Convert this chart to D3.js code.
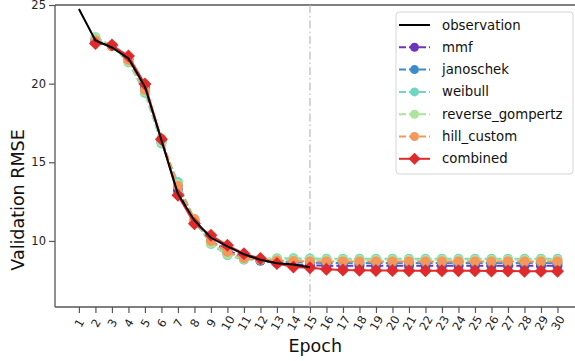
<!DOCTYPE html>
<html>
<head>
<meta charset="utf-8">
<script src="https://cdn.jsdelivr.net/npm/d3@7"></script>
<style>
  body { margin: 0; background: #fff; }
  svg { display: block; font-family: "DejaVu Sans", sans-serif; }
</style>
</head>
<body>
<svg id="chart" width="575" height="361"></svg>
<script>
// ---- data ----
const epochTicks = [1,2,3,4,5,6,7,8,9,10,11,12,13,14,15,16,17,18,19,20,21,22,23,24,25,26,27,28,29,30];
const yTicks = [10, 15, 20, 25];
const obsEpochs = [1,2,3,4,5,6,7,8,9,10,11,12,13,14,15];
const observation = [24.75,22.75,22.3,21.6,19.8,16.4,13.0,11.3,10.2,9.65,9.15,8.8,8.58,8.5,8.33];
const predEpochs = [2,3,4,5,6,7,8,9,10,11,12,13,14,15,16,17,18,19,20,21,22,23,24,25,26,27,28,29,30];
const mmf = [22.7,22.4,21.6,19.8,16.4,13.2,11.2,10.0,9.4,9.0,8.75,8.6,8.5,8.45,8.43,8.43,8.43,8.43,8.43,8.43,8.43,8.43,8.43,8.43,8.43,8.43,8.43,8.43,8.43];
const janoschek = [22.8,22.4,21.5,19.7,16.3,13.5,11.3,9.9,9.2,8.9,8.75,8.7,8.65,8.62,8.6,8.6,8.6,8.6,8.6,8.6,8.6,8.6,8.6,8.6,8.6,8.6,8.6,8.6,8.6];
const weibull = [22.95,22.4,21.35,19.4,16.2,13.75,11.3,9.8,9.1,8.8,8.85,8.9,8.9,8.88,8.87,8.87,8.87,8.87,8.87,8.87,8.87,8.87,8.87,8.87,8.87,8.87,8.87,8.87,8.87];
const reverse_gompertz = [22.9,22.4,21.4,19.5,16.3,13.6,11.3,9.85,9.15,8.85,8.85,8.85,8.82,8.8,8.8,8.8,8.8,8.8,8.8,8.8,8.8,8.8,8.8,8.8,8.8,8.8,8.8,8.8,8.8];
const hill_custom = [22.75,22.4,21.5,19.6,16.5,13.5,11.4,10.0,9.3,8.9,8.8,8.75,8.72,8.7,8.7,8.7,8.7,8.7,8.7,8.7,8.7,8.7,8.7,8.7,8.7,8.7,8.7,8.7,8.7];
const combined = [22.56,22.45,21.75,19.97,16.47,12.9,11.1,10.36,9.72,9.19,8.88,8.56,8.35,8.3,8.2,8.15,8.13,8.12,8.12,8.11,8.1,8.1,8.1,8.1,8.09,8.09,8.08,8.08,8.08];
const seriesNames = ["mmf","janoschek","weibull","reverse_gompertz","hill_custom"];
const seriesColors = ["#6b36bb","#3b8bcd","#6fd6c2","#aae59a","#f5975a"];
const combinedColor = "#e02a2c";
const cutoffEpoch = 15;

(function draw() {
  const svg = d3.select("#chart");
  const pL = 55, pR = 581.4, pT = 5, pB = 307;
  const x = d3.scaleLinear().domain([-0.45, 31.45]).range([pL, pR]);
  const y = d3.scaleLinear().domain([5.8, 25]).range([pB, pT]);
  const spineColor = "#555";

  const yAxis = svg.append("g").attr("transform", `translate(${pL},0)`)
    .call(d3.axisLeft(y).tickValues(yTicks).tickSize(6).tickPadding(3).tickFormat(d3.format("d")));
  yAxis.select(".domain").remove();
  yAxis.selectAll(".tick line").attr("stroke", spineColor).attr("stroke-width", 1.2);
  yAxis.selectAll(".tick text").attr("font-size", 11.5).attr("fill", "#222").attr("font-family", "DejaVu Sans");

  const xAxis = svg.append("g").attr("transform", `translate(0,${pB})`)
    .call(d3.axisBottom(x).tickValues(epochTicks).tickSize(6).tickFormat(d3.format("d")));
  xAxis.select(".domain").remove();
  xAxis.selectAll(".tick line").attr("stroke", spineColor).attr("stroke-width", 1.2);
  xAxis.selectAll(".tick text")
    .attr("font-size", 11.5).attr("fill", "#222").attr("font-family", "DejaVu Sans")
    .attr("text-anchor", "middle").attr("dominant-baseline", "central")
    .attr("y", 0).attr("dy", null)
    .attr("transform", "translate(0,16) rotate(-60)");

  svg.append("line").attr("x1", pL).attr("x2", pL).attr("y1", pT).attr("y2", pB)
    .attr("stroke", spineColor).attr("stroke-width", 1.3);
  svg.append("line").attr("x1", pL).attr("x2", 575).attr("y1", pT).attr("y2", pT)
    .attr("stroke", spineColor).attr("stroke-width", 1.3);
  svg.append("line").attr("x1", pL).attr("x2", 575).attr("y1", pB).attr("y2", pB)
    .attr("stroke", spineColor).attr("stroke-width", 1.3);

  svg.append("line").attr("x1", x(cutoffEpoch)).attr("x2", x(cutoffEpoch)).attr("y1", pT).attr("y2", pB)
    .attr("stroke", "#bbb").attr("stroke-width", 1.2).attr("stroke-dasharray", "8,3,1.5,3");

  svg.append("text").attr("x", (pL + pR) / 2 - 3).attr("y", 352)
    .attr("text-anchor", "middle").attr("font-size", 17.5).attr("fill", "#111").text("Epoch");
  svg.append("text").attr("transform", `translate(24,200) rotate(-90)`)
    .attr("text-anchor", "middle").attr("font-size", 17.5).attr("fill", "#111").text("Validation RMSE");

  const line = d3.line().x(d => x(d[0])).y(d => y(d[1]));
  const diamond = (cx, cy, r) => `M${cx},${cy - r}L${cx + r},${cy}L${cx},${cy + r}L${cx - r},${cy}Z`;

  const modelData = [mmf, janoschek, weibull, reverse_gompertz, hill_custom];
  modelData.forEach((vals, i) => {
    const pts = predEpochs.map((e, j) => [e, vals[j]]);
    const g = svg.append("g");
    g.append("path").attr("d", line(pts)).attr("fill", "none")
      .attr("stroke", seriesColors[i]).attr("stroke-width", 2).attr("stroke-dasharray", "7,3");
    g.selectAll("circle").data(pts).join("circle")
      .attr("cx", d => x(d[0])).attr("cy", d => y(d[1])).attr("r", 5)
      .attr("fill", seriesColors[i]);
  });

  {
    const pts = predEpochs.map((e, j) => [e, combined[j]]);
    const g = svg.append("g");
    g.append("path").attr("d", line(pts)).attr("fill", "none")
      .attr("stroke", combinedColor).attr("stroke-width", 2);
    g.selectAll("path.m").data(pts).join("path").attr("class", "m")
      .attr("d", d => diamond(x(d[0]), y(d[1]), 6.5)).attr("fill", combinedColor);
  }

  svg.append("path").attr("d", line(obsEpochs.map((e, j) => [e, observation[j]])))
    .attr("fill", "none").attr("stroke", "#000").attr("stroke-width", 2);

  const lg = svg.append("g");
  lg.append("rect").attr("x", 396).attr("y", 12).attr("width", 177).attr("height", 162)
    .attr("rx", 3).attr("fill", "#fff").attr("fill-opacity", 0.85).attr("stroke", "#d5d5d5");
  const legendItems = [{name: "observation", color: "#000", type: "obs"}]
    .concat(seriesNames.map((n, i) => ({name: n, color: seriesColors[i], type: "model"})))
    .concat([{name: "combined", color: combinedColor, type: "comb"}]);
  legendItems.forEach((it, i) => {
    const ly = 25 + i * 22.3;
    const x0 = 399, x1 = 430, xm = (x0 + x1) / 2;
    if (it.type === "obs") {
      lg.append("line").attr("x1", x0).attr("x2", x1).attr("y1", ly).attr("y2", ly)
        .attr("stroke", it.color).attr("stroke-width", 2);
    } else if (it.type === "model") {
      lg.append("line").attr("x1", x0).attr("x2", x1).attr("y1", ly).attr("y2", ly)
        .attr("stroke", it.color).attr("stroke-width", 2).attr("stroke-dasharray", "7,3");
      lg.append("circle").attr("cx", xm).attr("cy", ly).attr("r", 4.5).attr("fill", it.color);
    } else {
      lg.append("line").attr("x1", x0).attr("x2", x1).attr("y1", ly).attr("y2", ly)
        .attr("stroke", it.color).attr("stroke-width", 2);
      lg.append("path").attr("d", diamond(xm, ly, 6)).attr("fill", it.color);
    }
    lg.append("text").attr("x", 442).attr("y", ly).attr("dominant-baseline", "central")
      .attr("font-size", 13.3).attr("fill", "#111").text(it.name);
  });
})();
</script>
</body>
</html>
